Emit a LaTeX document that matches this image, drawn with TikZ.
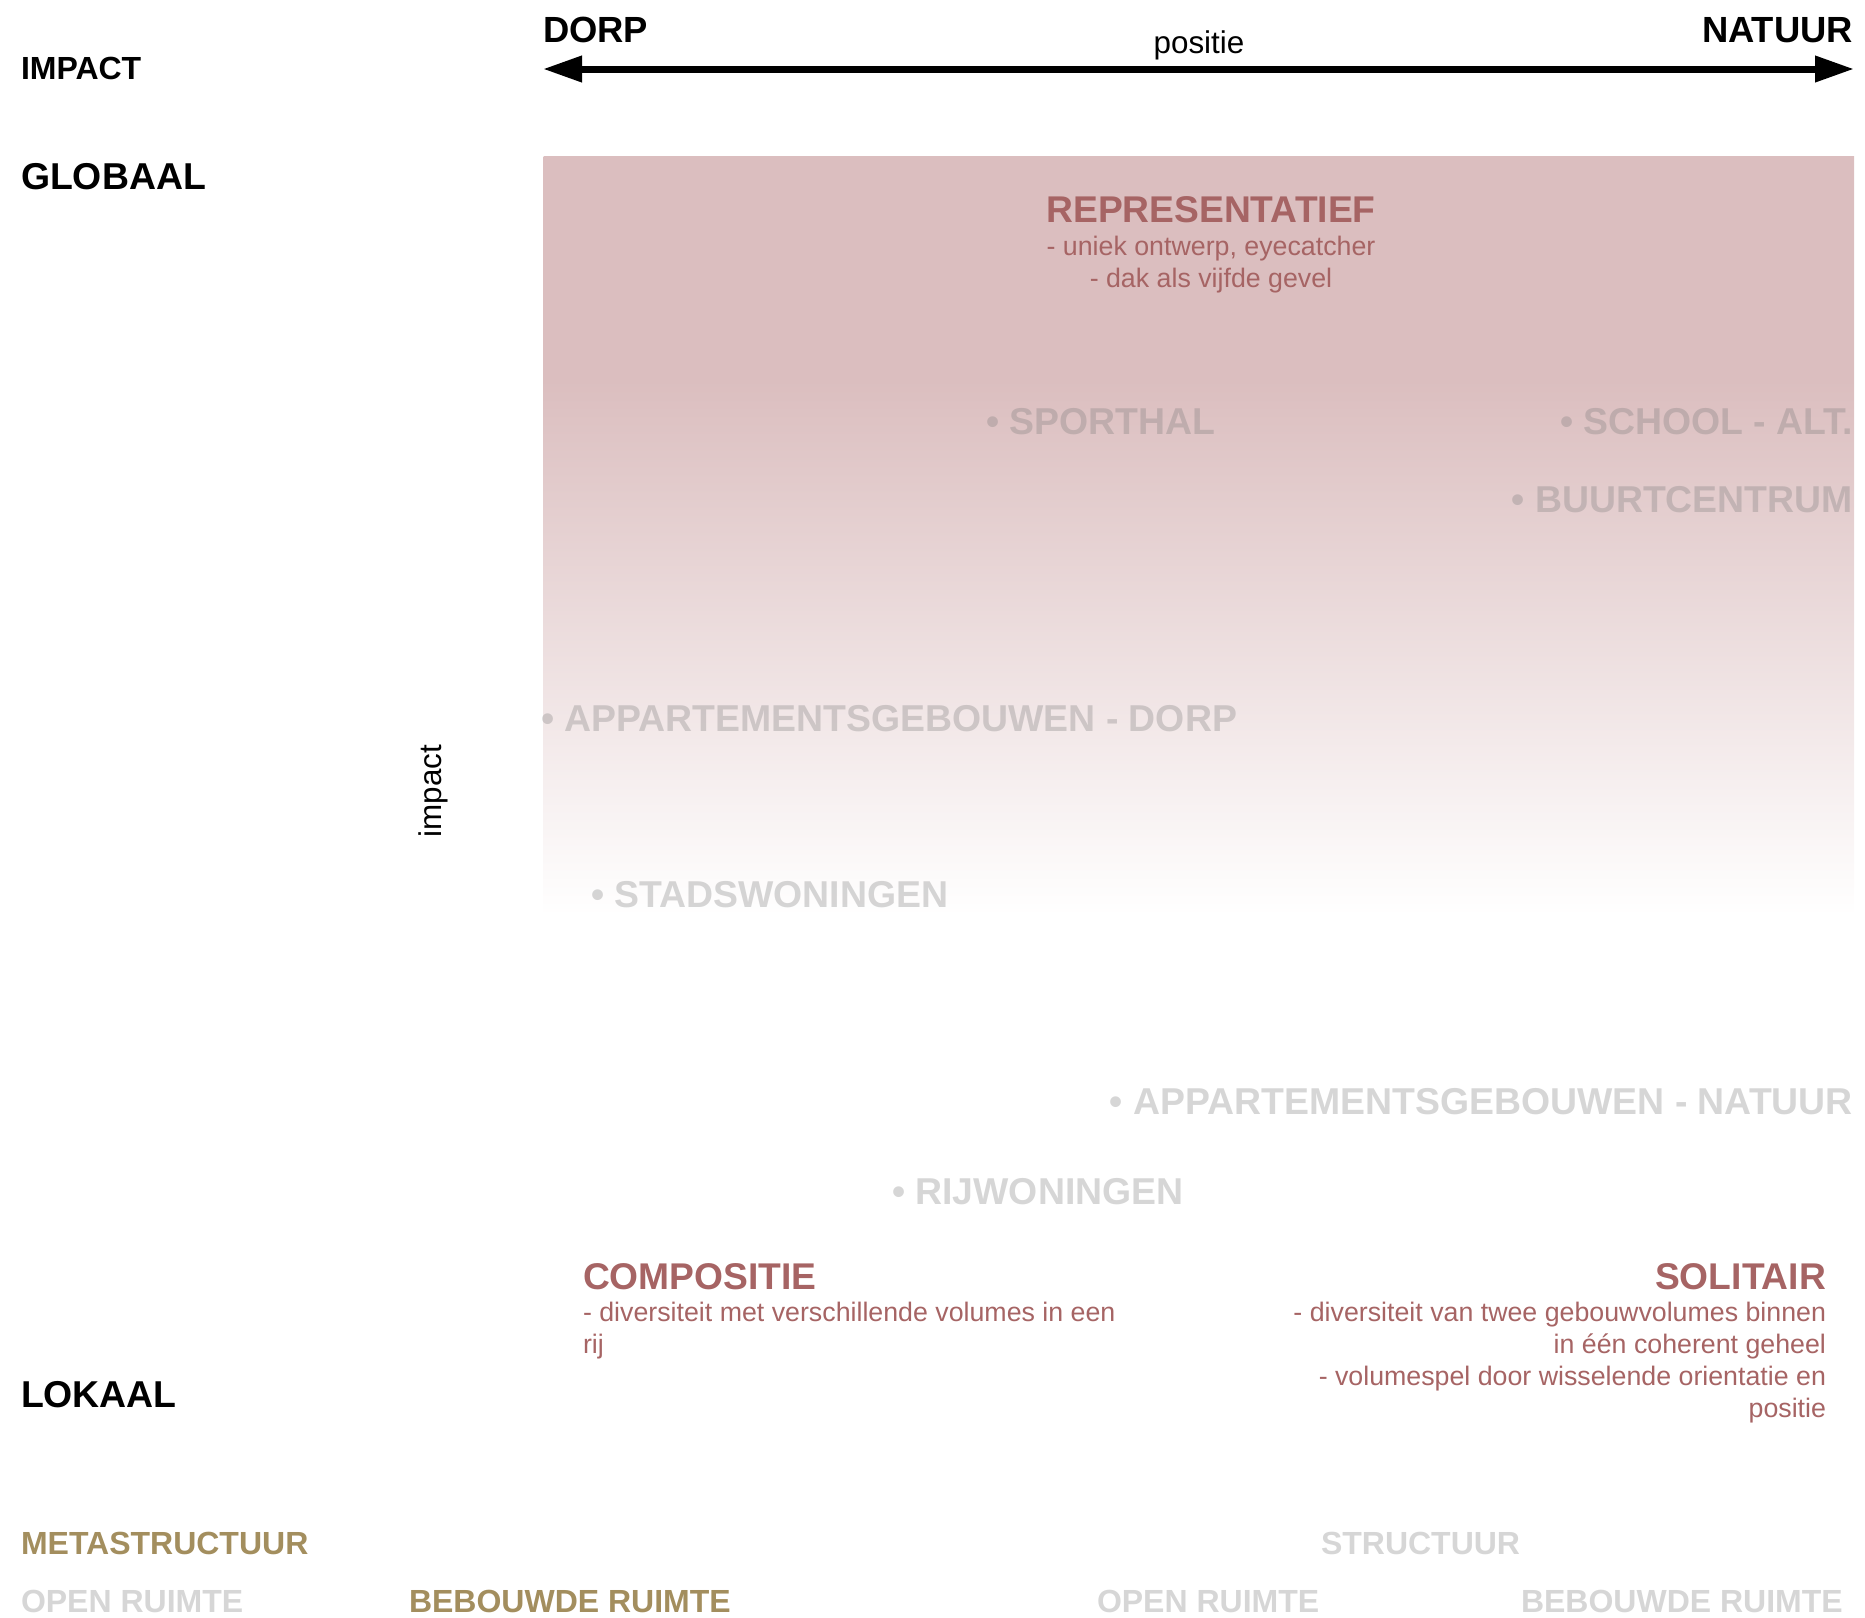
\documentclass[tikz,border=0pt]{standalone}
\usepackage{fontspec}
\setmainfont{Liberation Sans}
\usetikzlibrary{arrows.meta}
\definecolor{pinkbg}{RGB}{219,190,191}
\definecolor{maroon}{RGB}{166,100,100}
\definecolor{gold}{RGB}{163,142,94}
\definecolor{lblgray}{RGB}{120,120,120}
\pgfdeclareverticalshading{fieldshade}{100bp}{color(0bp)=(white); color(25bp)=(white); color(60.3bp)=(pinkbg); color(75bp)=(pinkbg); color(100bp)=(pinkbg)}
\tikzset{
  txt/.style={inner sep=0pt, outer sep=0pt},
  axislbl/.style={txt, font=\bfseries\fontsize{18.2}{21}\selectfont},
  impactlbl/.style={txt, font=\bfseries\fontsize{16}{18}\selectfont},
  scalelbl/.style={txt, font=\bfseries\fontsize{18.7}{22}\selectfont},
  reglbl/.style={txt, font=\fontsize{15.7}{18}\selectfont},
  cattitle/.style={txt, text=maroon, font=\bfseries\fontsize{18.6}{22}\selectfont},
  catline/.style={txt, text=maroon, font=\fontsize{13.38}{16}\selectfont},
  item/.style={txt, text=lblgray, text opacity=0.3, font=\bfseries\fontsize{18.7}{22}\selectfont},
  botgold/.style={txt, text=gold, font=\bfseries\fontsize{16}{19}\selectfont},
  botgray/.style={txt, text=lblgray, text opacity=0.3, font=\bfseries\fontsize{16}{19}\selectfont},
  bigarrow/.style={line width=3.5pt, {Triangle[length=19.5pt,width=12.5pt]}-{Triangle[length=19.5pt,width=12.5pt]}}
}
\begin{document}
\begin{tikzpicture}[x=0.5pt,y=-0.5pt]
\useasboundingbox (0,0) rectangle (1865,1618);
% background field
\shade[shading=fieldshade] (543.5,156) rectangle (1854,916);
% axis
\coordinate (L) at (543,69);
\coordinate (R) at (1854,69);
\draw[bigarrow] (L) -- (R);
\node[axislbl, anchor=base west] (dorp) at (543,42) {DORP};
\node[axislbl, anchor=base east] (natuur) at (1853,42) {NATUUR};
\node[reglbl, anchor=base] (positie) at (1199,53) {positie};
% left labels
\node[impactlbl, anchor=base west] (impactT) at (21,79) {IMPACT};
\node[scalelbl, anchor=base west] (globaal) at (21,189) {GLOBAAL};
\node[scalelbl, anchor=base west] (lokaal) at (21,1407) {LOKAAL};
\node[reglbl, rotate=90] (impactV) at (433,791) {impact};
% categories
\node[cattitle, anchor=base] (repr) at (1211,222) {REPRESENTATIEF};
\node[catline, anchor=base] (repr1) at (1211,255) {- uniek ontwerp, eyecatcher};
\node[catline, anchor=base] (repr2) at (1211,287) {- dak als vijfde gevel};
\node[cattitle, anchor=base west] (comp) at (583,1289) {COMPOSITIE};
\node[catline, anchor=base west] (comp1) at (583,1321) {- diversiteit met verschillende volumes in een};
\node[catline, anchor=base west] (comp2) at (583,1353) {rij};
\node[cattitle, anchor=base east] (sol) at (1826,1289) {SOLITAIR};
\node[catline, anchor=base east] (sol1) at (1826,1321) {- diversiteit van twee gebouwvolumes binnen};
\node[catline, anchor=base east] (sol2) at (1826,1353) {in één coherent geheel};
\node[catline, anchor=base east] (sol3) at (1826,1385) {- volumespel door wisselende orientatie en};
\node[catline, anchor=base east] (sol4) at (1826,1417) {positie};
% items
\node[item, anchor=base west] (sporthal) at (986,434) {• SPORTHAL};
\node[item, anchor=base east] (school) at (1853,434) {• SCHOOL - ALT.};
\node[item, anchor=base east] (buurt) at (1853,512) {• BUURTCENTRUM};
\node[item, anchor=base west] (appdorp) at (541,731) {• APPARTEMENTSGEBOUWEN - DORP};
\node[item, anchor=base west] (stads) at (591,907) {• STADSWONINGEN};
\node[item, anchor=base east] (appnat) at (1853,1114) {• APPARTEMENTSGEBOUWEN - NATUUR};
\node[item, anchor=base west] (rij) at (892,1204) {• RIJWONINGEN};
% bottom legend
\node[botgold, anchor=base west] (meta) at (21,1554) {METASTRUCTUUR};
\node[botgray, anchor=base west] (struct) at (1321,1554) {STRUCTUUR};
\node[botgray, anchor=base west] (open1) at (21,1612) {OPEN RUIMTE};
\node[botgold, anchor=base west] (beb1) at (409,1612) {BEBOUWDE RUIMTE};
\node[botgray, anchor=base west] (open2) at (1097,1612) {OPEN RUIMTE};
\node[botgray, anchor=base west] (beb2) at (1521,1612) {BEBOUWDE RUIMTE};
\end{tikzpicture}
\end{document}
